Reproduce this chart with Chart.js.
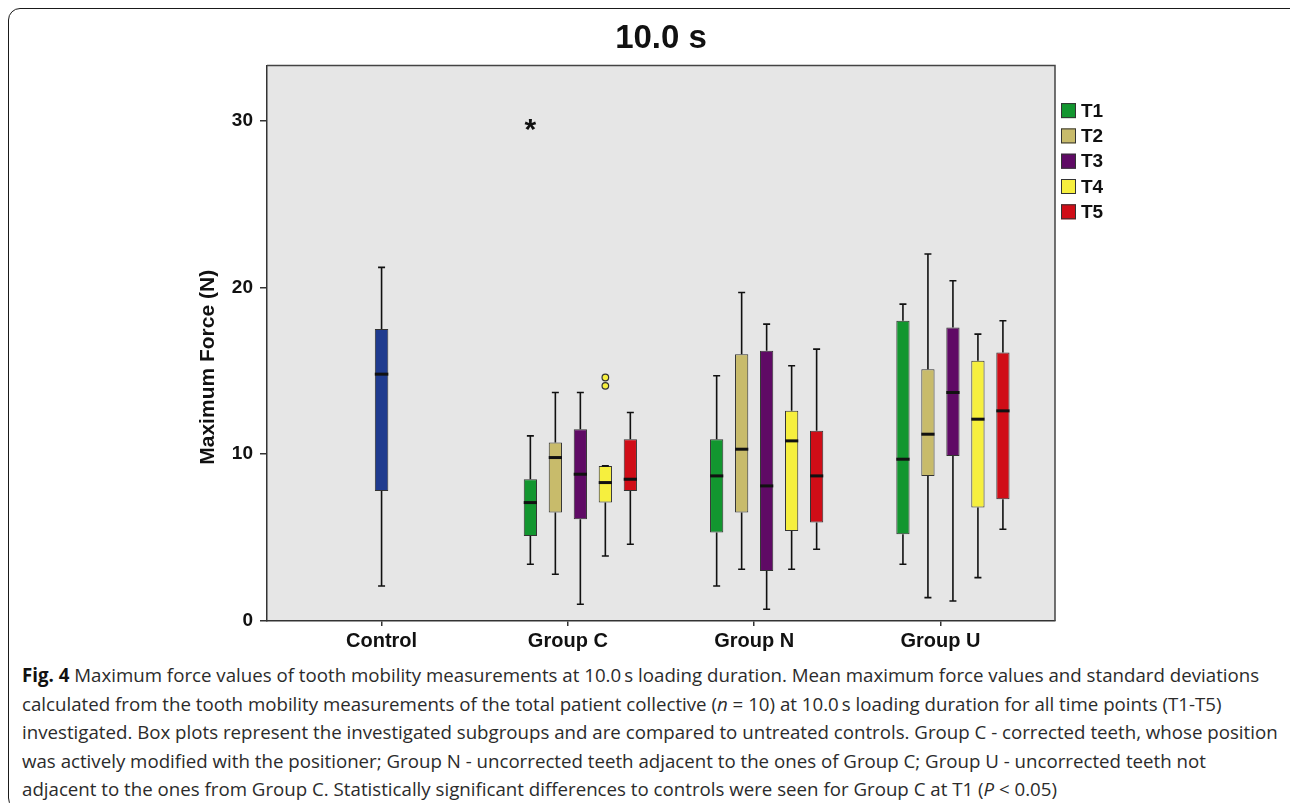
<!DOCTYPE html>
<html>
<head>
<meta charset="utf-8">
<script src="https://cdn.jsdelivr.net/npm/chart.js@4.4.1/dist/chart.umd.min.js"></script>
<style>
body { margin: 0; background: #fff; }
#frame { position: absolute; left: 8px; top: 8px; width: 1300px; height: 800px; border: 1.6px solid #1a1a1a; border-radius: 12px; }
#wrap { position: absolute; left: 0; top: 0; width: 1290px; height: 661px; }
#caption { position: absolute; left: 22px; top: 661px; font-family: "Open Sans", sans-serif; font-size: 18.7px; line-height: 28.5px; color: #2b2b2b; white-space: nowrap; }
#caption b { color: #111; }
</style>
</head>
<body>
<div id="frame"></div>
<div id="wrap"><canvas id="boxChart" width="1290" height="661"></canvas></div>
<div id="caption">
<div><b>Fig. 4</b> Maximum force values of tooth mobility measurements at 10.0&thinsp;s loading duration. Mean maximum force values and standard deviations</div>
<div>calculated from the tooth mobility measurements of the total patient collective (<i>n</i> = 10) at 10.0&thinsp;s loading duration for all time points (T1-T5)</div>
<div>investigated. Box plots represent the investigated subgroups and are compared to untreated controls. Group C - corrected teeth, whose position</div>
<div>was actively modified with the positioner; Group N - uncorrected teeth adjacent to the ones of Group C; Group U - uncorrected teeth not</div>
<div>adjacent to the ones from Group C. Statistically significant differences to controls were seen for Group C at T1 (<i>P</i> &lt; 0.05)</div>
</div>
<script>
// Box plot data
var categories = ['Control', 'Group C', 'Group N', 'Group U'];
var yTicks = [0, 10, 20, 30];
var yTitle = 'Maximum Force (N)';

// [min, q1, median, q3, max] per group, null where the series has no box
var controlStats = [[2.1, 7.8, 14.8, 17.5, 21.2], null, null, null];
var t1Stats = [null, [3.4, 5.1, 7.1, 8.5, 11.1], [2.1, 5.3, 8.7, 10.9, 14.7], [3.4, 5.2, 9.7, 18.0, 19.0]];
var t2Stats = [null, [2.8, 6.5, 9.8, 10.7, 13.7], [3.1, 6.5, 10.3, 16.0, 19.7], [1.4, 8.7, 11.2, 15.1, 22.0]];
var t3Stats = [null, [1.0, 6.1, 8.8, 11.5, 13.7], [0.7, 3.0, 8.1, 16.2, 17.8], [1.2, 9.9, 13.7, 17.6, 20.4]];
var t4Stats = [null, [3.9, 7.1, 8.3, 9.3, 9.3], [3.1, 5.4, 10.8, 12.6, 15.3], [2.6, 6.8, 12.1, 15.6, 17.2]];
var t5Stats = [null, [4.6, 7.8, 8.5, 10.9, 12.5], [4.3, 5.9, 8.7, 11.4, 16.3], [5.5, 7.3, 12.6, 16.1, 18.0]];

// outliers (circles) and extremes (stars) per group
var t1Extremes = [[], [29.7], [], []];
var t4Outliers = [[], [14.6, 14.1], [], []];

var series = [
    { label: 'Control', stats: controlStats, color: '#1f3b8f' },
    { label: 'T1', stats: t1Stats, color: '#12962f', extremes: t1Extremes },
    { label: 'T2', stats: t2Stats, color: '#c8bb6b' },
    { label: 'T3', stats: t3Stats, color: '#5f0a65' },
    { label: 'T4', stats: t4Stats, color: '#f6ef3e', outliers: t4Outliers },
    { label: 'T5', stats: t5Stats, color: '#d00d17' }
];

var boldFont = 'Liberation Sans, Arial, sans-serif';

// plot background, frame and y title
var plotFrame = {
    id: 'plotFrame',
    beforeDraw: function (chart) {
        var a = chart.chartArea, ctx = chart.ctx;
        ctx.save();
        ctx.fillStyle = '#e6e6e6';
        ctx.fillRect(a.left, a.top, a.right - a.left, a.bottom - a.top);
        ctx.restore();
    },
    afterDraw: function (chart) {
        var a = chart.chartArea, ctx = chart.ctx;
        ctx.save();
        ctx.strokeStyle = '#444';
        ctx.lineWidth = 1.5;
        ctx.beginPath();
        ctx.moveTo(a.left, a.top);
        ctx.lineTo(a.right, a.top);
        ctx.lineTo(a.right, a.bottom);
        ctx.stroke();
        // y axis title, sits a bit below the middle like the original
        var ys = chart.scales.y;
        ctx.translate(ys.left + 21, (a.top + a.bottom) / 2 + 24);
        ctx.rotate(-Math.PI / 2);
        ctx.fillStyle = '#111';
        ctx.font = 'bold 21px ' + boldFont;
        ctx.textAlign = 'center';
        ctx.textBaseline = 'middle';
        ctx.fillText(yTitle, 0, 0);
        ctx.restore();
    }
};

// whiskers, medians, outliers
var boxParts = {
    id: 'boxParts',
    afterDatasetsDraw: function (chart) {
        var ctx = chart.ctx, y = chart.scales.y;
        ctx.save();
        chart.data.datasets.forEach(function (ds, di) {
            var meta = chart.getDatasetMeta(di);
            ds.data.forEach(function (d, j) {
                if (!d.s) return;
                var bar = meta.data[j];
                var x = bar.x, half = bar.width / 2;
                var mn = y.getPixelForValue(d.s[0]), q1 = y.getPixelForValue(d.s[1]);
                var md = y.getPixelForValue(d.s[2]), q3 = y.getPixelForValue(d.s[3]);
                var mx = y.getPixelForValue(d.s[4]);
                ctx.strokeStyle = '#111';
                ctx.lineWidth = 1.6;
                ctx.beginPath();
                ctx.moveTo(x, q3); ctx.lineTo(x, mx);
                ctx.moveTo(x, q1); ctx.lineTo(x, mn);
                ctx.moveTo(x - 3.5, mx); ctx.lineTo(x + 3.5, mx);
                ctx.moveTo(x - 3.5, mn); ctx.lineTo(x + 3.5, mn);
                ctx.stroke();
                ctx.lineWidth = 3;
                ctx.beginPath();
                ctx.moveTo(x - half, md); ctx.lineTo(x + half, md);
                ctx.stroke();
                (d.out || []).forEach(function (v) {
                    ctx.beginPath();
                    ctx.arc(x, y.getPixelForValue(v), 3.3, 0, Math.PI * 2);
                    ctx.fillStyle = ds.backgroundColor;
                    ctx.fill();
                    ctx.lineWidth = 1.2;
                    ctx.strokeStyle = '#333';
                    ctx.stroke();
                });
                (d.ext || []).forEach(function (v) {
                    ctx.fillStyle = '#111';
                    ctx.font = 'bold 30px ' + boldFont;
                    ctx.textAlign = 'center';
                    ctx.textBaseline = 'alphabetic';
                    ctx.fillText('*', x, y.getPixelForValue(v) + 13);
                });
            });
        });
        ctx.restore();
    }
};

// legend at the right of the plot
var sideLegend = {
    id: 'sideLegend',
    afterDraw: function (chart) {
        var a = chart.chartArea, ctx = chart.ctx;
        ctx.save();
        ctx.font = 'bold 19px ' + boldFont;
        ctx.textBaseline = 'middle';
        ctx.textAlign = 'left';
        chart.data.datasets.slice(1).forEach(function (ds, k) {
            var cy = a.top + 45 + k * 25.3;
            var x0 = a.right + 6;
            ctx.fillStyle = ds.backgroundColor;
            ctx.fillRect(x0, cy - 7.5, 15, 15);
            ctx.strokeStyle = '#333';
            ctx.lineWidth = 1;
            ctx.strokeRect(x0 + 0.5, cy - 7, 14, 14);
            ctx.fillStyle = '#111';
            ctx.fillText(ds.label, x0 + 20, cy + 1);
        });
        ctx.restore();
    }
};

var ctx = document.getElementById('boxChart').getContext('2d');
var boxChart = new Chart(ctx, {
    type: 'bar',
    data: {
        datasets: series.map(function (s, si) {
            return {
                label: s.label,
                data: s.stats.map(function (st, i) {
                    return {
                        x: i,
                        y: st ? [st[1], st[3]] : null,
                        s: st,
                        out: s.outliers ? s.outliers[i] : [],
                        ext: s.extremes ? s.extremes[i] : []
                    };
                }),
                backgroundColor: s.color,
                borderColor: '#333',
                borderWidth: 1,
                borderSkipped: false,
                skipNull: si === 0,
                categoryPercentage: 0.805,
                barPercentage: 0.53,
                maxBarThickness: 13.5
            };
        })
    },
    options: {
        responsive: false,
        animation: false,
        layout: { padding: { left: 187, right: 235, top: 0, bottom: 0 } },
        plugins: {
            legend: { display: false },
            tooltip: { enabled: false },
            title: {
                display: true,
                text: '10.0 s',
                fullSize: false,
                color: '#111',
                font: { family: boldFont, size: 33, weight: 'bold' },
                padding: { top: 19, bottom: 7 }
            }
        },
        scales: {
            x: {
                type: 'linear',
                min: -0.615,
                max: 3.615,
                bounds: 'data',
                offset: false,
                afterBuildTicks: function (s) {
                    s.ticks = categories.map(function (c, i) { return { value: i }; });
                },
                afterFit: function (s) { s.height = 40; },
                grid: { offset: false, drawOnChartArea: false, tickLength: 5, color: '#333', lineWidth: 1.5 },
                border: { color: '#333', width: 1.5 },
                ticks: {
                    autoSkip: false,
                    maxRotation: 0,
                    padding: 3,
                    color: '#111',
                    font: { family: boldFont, size: 20, weight: 'bold' },
                    callback: function (v) { return categories[v]; }
                }
            },
            y: {
                min: 0,
                max: 33.3,
                afterBuildTicks: function (s) {
                    s.ticks = yTicks.map(function (v) { return { value: v }; });
                },
                afterFit: function (s) { s.width = 80; },
                grid: { drawOnChartArea: false, tickLength: 7, color: '#333', lineWidth: 1.5 },
                border: { color: '#333', width: 1.5 },
                ticks: {
                    padding: 7,
                    color: '#111',
                    font: { family: boldFont, size: 19, weight: 'bold' }
                }
            }
        }
    },
    plugins: [plotFrame, boxParts, sideLegend]
});
</script>
</body>
</html>
